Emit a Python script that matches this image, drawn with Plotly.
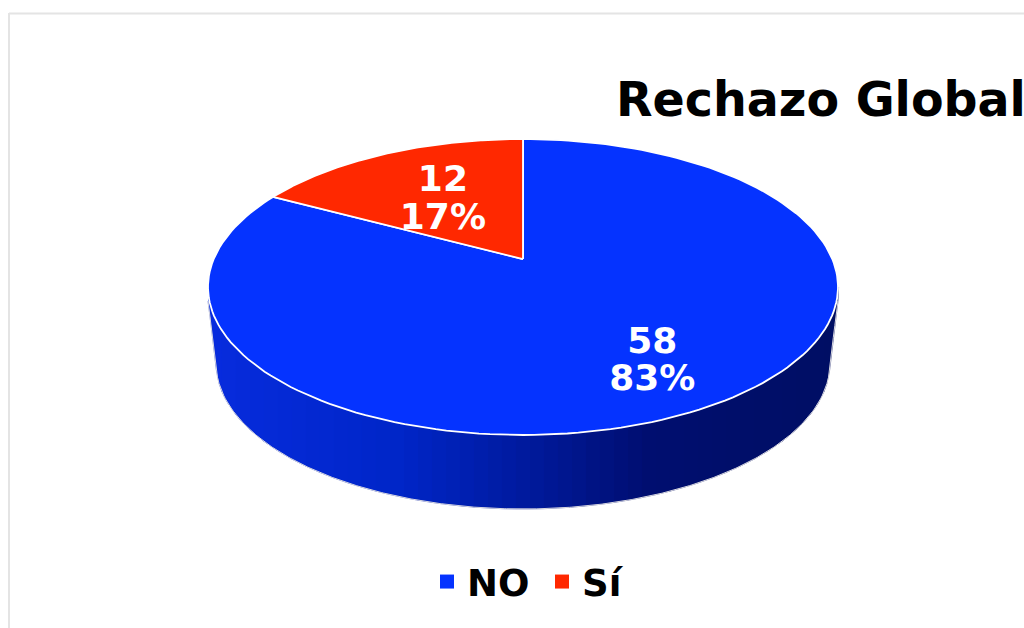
import numpy as np
import plotly.graph_objects as go

categories = ["NO", "Sí"]
values = [58, 12]
percent_labels = ["83%", "17%"]
title_text = "Rechazo Global"

BLUE, RED = "#0533FF", "#FF2800"
colors = [BLUE, RED]
FONT = "DejaVu Sans"

# drawing geometry in pixel-like axis units
cx, cy, rx, ry = 523.0, 287.0, 315.0, 148.0
persp = 0.189
low_cy, low_rx, low_ry = 363.0, 307.0, 146.0
label_radius = [0.72, 0.55]


def project(theta, r=1.0):
    X, Y = r * np.sin(theta), r * np.cos(theta)
    d = 1 + persp * Y
    return cx + rx * X * np.sqrt(1 - persp ** 2) / d, cy - ry * (Y + persp) / d


def side_bottom(x):
    x = np.asarray(x, float)
    inner = low_cy + low_ry * np.sqrt(np.clip(1 - ((x - cx) / low_rx) ** 2, 0, 1))
    dist = np.abs(x - cx)
    edge = np.where(dist > low_rx, low_cy - (dist - low_rx) / (rx - low_rx) * 62, inner)
    return edge


stops_x = [208, 400, 530, 650, 838]
stops_rgb = np.array([[8, 44, 222], [0, 38, 200], [0, 26, 156], [0, 14, 112], [0, 14, 100]], float)

fig = go.Figure()

# side wall, built of thin vertical bands
edges = np.arange(cx - rx, cx + rx + 14, 14.0)
for a, b in zip(edges[:-1], edges[1:]):
    b = min(b, cx + rx)
    xs = np.linspace(a, b, 6)
    rgb = [np.interp((a + b) / 2, stops_x, stops_rgb[:, i]) for i in range(3)]
    col = "rgb(%d,%d,%d)" % tuple(rgb)
    fig.add_trace(go.Scatter(
        x=[a, b + 0.6] + list(xs[::-1]), y=[cy, cy] + list(side_bottom(xs[::-1])),
        mode="lines", fill="toself", fillcolor=col, line=dict(width=0.5, color=col),
        hoverinfo="skip", showlegend=False))

# light outline of the wall
xo = np.linspace(cx - rx, cx + rx, 400)
fig.add_trace(go.Scatter(x=xo, y=side_bottom(xo), mode="lines",
                         line=dict(color="#d8d8e0", width=1),
                         hoverinfo="skip", showlegend=False))

# top slices
total = sum(values)
start = 0.0
mids = []
for name, v, col in zip(categories, values, colors):
    sweep = 2 * np.pi * v / total
    th = np.linspace(start, start + sweep, 180)
    px, py = project(th)
    ax_, ay_ = project(0.0, 0.0)
    fig.add_trace(go.Scatter(
        x=[ax_] + list(px) + [ax_], y=[ay_] + list(py) + [ay_],
        mode="lines", fill="toself", fillcolor=col,
        line=dict(color="#FFFFFF", width=1.8),
        hoverinfo="skip", showlegend=False, name=name))
    mids.append(start + sweep / 2)
    start += sweep

# value and percentage labels
for v, pct, mid, f in zip(values, percent_labels, mids, label_radius):
    lx, ly = project(mid, f)
    fig.add_trace(go.Scatter(
        x=[lx, lx], y=[ly - 15, ly + 22.5], mode="text", text=[str(v), pct],
        textposition="middle center",
        textfont=dict(family=FONT, size=36, color="white", weight=700),
        hoverinfo="skip", showlegend=False))

# legend entries
for name, col in zip(categories, colors):
    fig.add_trace(go.Scatter(
        x=[None], y=[None], mode="markers", name=name,
        marker=dict(symbol="square", size=14, color=col)))

fig.update_layout(
    width=1024, height=628,
    margin=dict(l=0, r=0, t=0, b=0),
    paper_bgcolor="white", plot_bgcolor="white",
    xaxis=dict(visible=False, range=[0, 1024], fixedrange=True),
    yaxis=dict(visible=False, range=[628, 0], fixedrange=True),
    title=dict(text=title_text, x=616 / 1024, xanchor="left",
               y=1 - 99 / 628, yanchor="middle",
               font=dict(family=FONT, size=47.5, color="black", weight=700)),
    legend=dict(orientation="h", x=427 / 1024, xanchor="left",
                y=1 - 582 / 628, yanchor="middle",
                entrywidth=70, entrywidthmode="pixels",
                font=dict(family=FONT, size=37, color="black", weight=700),
                bgcolor="rgba(0,0,0,0)", borderwidth=0),
    shapes=[
        dict(type="line", xref="x", yref="y", x0=9, x1=1024, y0=13.5, y1=13.5,
             line=dict(color="#E4E4E4", width=2)),
        dict(type="line", xref="x", yref="y", x0=9, x1=9, y0=13, y1=628,
             line=dict(color="#E4E4E4", width=2)),
    ],
)

fig.write_html("out.html", config={"displayModeBar": False},
               post_script="document.body.style.margin='0';document.body.style.overflow='hidden';")
